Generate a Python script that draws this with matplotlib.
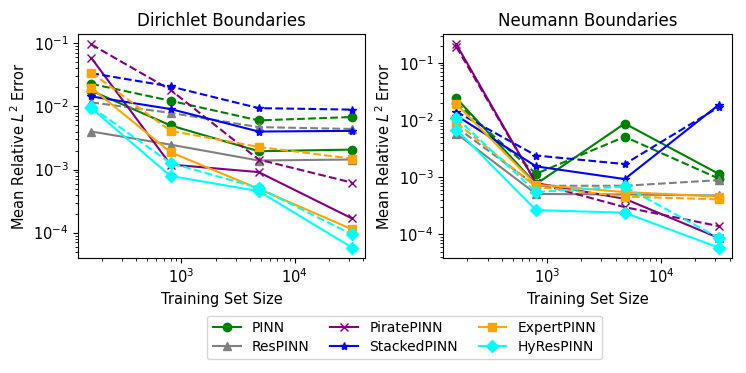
import matplotlib
matplotlib.use("Agg")
import matplotlib.pyplot as plt

sizes = [160, 800, 4800, 32000]
models = ["PINN", "ResPINN", "PiratePINN", "StackedPINN", "ExpertPINN", "HyResPINN"]
colors = ["green", "gray", "purple", "blue", "orange", "cyan"]
markers = ["o", "^", "x", "*", "s", "D"]

# Dirichlet: solid and dashed series
dir_solid = {
    "PINN":        [0.0177, 0.0050, 0.00195, 0.00207],
    "ResPINN":     [0.0040, 0.00248, 0.00139, 0.00144],
    "PiratePINN":  [0.0586, 0.0012, 0.00091, 0.000168],
    "StackedPINN": [0.0144, 0.0091, 0.0040, 0.0041],
    "ExpertPINN":  [0.0197, 0.00188, 0.000495, 0.000113],
    "HyResPINN":   [0.0094, 0.00079, 0.000455, 0.000058],
}
dir_dashed = {
    "PINN":        [0.0228, 0.0123, 0.0060, 0.0068],
    "ResPINN":     [0.0116, 0.0079, 0.0047, 0.0044],
    "PiratePINN":  [0.096, 0.0183, 0.00144, 0.00062],
    "StackedPINN": [0.0336, 0.0207, 0.0094, 0.0089],
    "ExpertPINN":  [0.0344, 0.0041, 0.00228, 0.00149],
    "HyResPINN":   [0.0098, 0.00127, 0.00051, 0.000094],
}
# Neumann
neu_solid = {
    "PINN":        [0.024, 0.00076, 0.0087, 0.00115],
    "ResPINN":     [0.0058, 0.00051, 0.00050, 0.00048],
    "PiratePINN":  [0.21, 0.00079, 0.00042, 0.000087],
    "StackedPINN": [0.012, 0.00155, 0.00093, 0.0184],
    "ExpertPINN":  [0.019, 0.00074, 0.00055, 0.00046],
    "HyResPINN":   [0.0068, 0.000266, 0.00024, 0.000059],
}
neu_dashed = {
    "PINN":        [0.020, 0.00115, 0.0051, 0.00095],
    "ResPINN":     [0.0075, 0.00071, 0.00071, 0.00089],
    "PiratePINN":  [0.19, 0.00079, 0.00030, 0.00014],
    "StackedPINN": [0.014, 0.0024, 0.0017, 0.0168],
    "ExpertPINN":  [0.009, 0.00068, 0.00046, 0.00041],
    "HyResPINN":   [0.011, 0.00055, 0.00069, 0.000087],
}

fig = plt.figure(figsize=(7.46, 3.73), dpi=100)
W, H = 746, 373
ax1 = fig.add_axes([78.3 / W, 1 - 257.7 / H, (365 - 78.3) / W, (257.7 - 34.3) / H])
ax2 = fig.add_axes([443.3 / W, 1 - 257.7 / H, (731.7 - 443.3) / W, (257.7 - 34.3) / H])

handles = []
for ax, solid, dashed, title in [(ax1, dir_solid, dir_dashed, "Dirichlet Boundaries"),
                                 (ax2, neu_solid, neu_dashed, "Neumann Boundaries")]:
    for m, c, mk in zip(models, colors, markers):
        h, = ax.plot(sizes, solid[m], color=c, marker=mk, linestyle="-", label=m)
        ax.plot(sizes, dashed[m], color=c, marker=mk, linestyle="--")
        if ax is ax1:
            handles.append(h)
    ax.set_xscale("log")
    ax.set_yscale("log")
    ax.set_title(title, fontsize=12)
    ax.set_xlabel("Training Set Size", fontsize=10.5)
    ax.set_ylabel("Mean Relative $L^2$ Error", fontsize=10.5)
    ax.tick_params(labelsize=10.5)

fig.legend(handles=handles, labels=models, ncol=3, loc="center",
           bbox_to_anchor=(404.5 / W, 1 - 337.5 / H), fontsize=10,
           columnspacing=1.5, labelspacing=0.35)

fig.savefig("out.png", dpi=100)
